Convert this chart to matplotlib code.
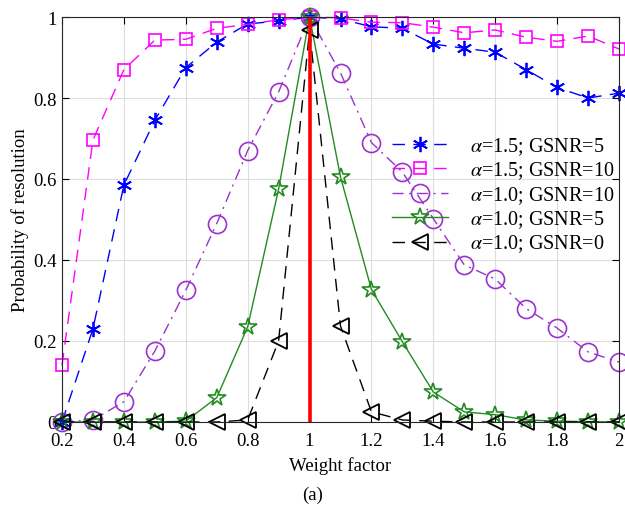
import numpy as np
import matplotlib
matplotlib.use("Agg")
import matplotlib.pyplot as plt

plt.rcParams['font.family'] = ['Liberation Serif', 'DejaVu Serif']
plt.rcParams['mathtext.fontset'] = 'stix'

# weight factor axis
w = [0.2, 0.3, 0.4, 0.5, 0.6, 0.7, 0.8, 0.9, 1.0, 1.1,
     1.2, 1.3, 1.4, 1.5, 1.6, 1.7, 1.8, 1.9, 2.0]

# probability of resolution for each setting
p_a15_g5 = [0.0, 0.23, 0.585, 0.745, 0.875, 0.938, 0.983, 0.99, 1.0, 0.995,
            0.976, 0.972, 0.933, 0.923, 0.913, 0.87, 0.826, 0.80, 0.812]
p_a15_g10 = [0.14, 0.696, 0.87, 0.943, 0.945, 0.972, 0.982, 0.993, 1.0, 0.998,
             0.987, 0.986, 0.975, 0.961, 0.968, 0.95, 0.94, 0.953, 0.921]
p_a10_g10 = [0.0, 0.005, 0.05, 0.175, 0.325, 0.49, 0.67, 0.815, 1.0, 0.862,
             0.69, 0.617, 0.502, 0.388, 0.353, 0.28, 0.232, 0.173, 0.148]
p_a10_g5 = [0.0, 0.0, 0.0, 0.0, 0.002, 0.06, 0.235, 0.575, 1.0, 0.605,
            0.327, 0.198, 0.074, 0.025, 0.018, 0.005, 0.002, 0.001, 0.0]
p_a10_g0 = [0.0, 0.0, 0.0, 0.0, 0.0, 0.0, 0.005, 0.2, 0.968, 0.237,
            0.025, 0.005, 0.002, 0.0, 0.0, 0.0, 0.0, 0.0, 0.0]

labels = [r'$\alpha$=1.5; GSNR=5', r'$\alpha$=1.5; GSNR=10',
          r'$\alpha$=1.0; GSNR=10', r'$\alpha$=1.0; GSNR=5',
          r'$\alpha$=1.0; GSNR=0']

fig = plt.figure(figsize=(6.25, 5.1), dpi=100)
ax = fig.add_axes([0.0992, 0.1706, 0.8912, 0.7941])

asterisk = (6, 2, 0)
ax.plot(w, p_a15_g5, color='#0000FF', lw=1.0, dashes=(9, 6), marker=asterisk,
        ms=11, mew=1.3, label=labels[0], clip_on=False)
ax.plot(w, p_a15_g10, color='#FF00FF', lw=1.0, dashes=(9, 6), marker='s',
        ms=9, mew=1.2, mfc='none', label=labels[1], clip_on=False)
ax.plot(w, p_a10_g10, color='#9933CC', lw=1.0, dashes=(8, 4, 1.5, 4), marker='o',
        ms=13, mew=1.2, mfc='none', label=labels[2], clip_on=False)
ax.plot(w, p_a10_g5, color='#228B22', lw=1.0, ls='-', marker='*',
        ms=13, mew=1.2, mfc='none', label=labels[3], clip_on=False)
ax.plot(w, p_a10_g0, color='black', lw=1.0, dashes=(9, 6), marker='<',
        ms=12, mew=1.3, mfc='none', label=labels[4], clip_on=False)

# optimal weight
ax.plot([1, 1], [0, 1], color='red', lw=2.6, solid_capstyle='butt')

ax.set_xlim(0.2, 2)
ax.set_ylim(0, 1)
ax.set_xticks(np.arange(0.2, 2.01, 0.2))
ax.set_xticklabels(['0.2', '0.4', '0.6', '0.8', '1', '1.2', '1.4', '1.6', '1.8', '2'])
ax.set_yticks(np.arange(0, 1.01, 0.2))
ax.set_yticklabels(['0', '0.2', '0.4', '0.6', '0.8', '1'])
ax.tick_params(direction='in', top=True, right=True, length=5, width=0.8,
               labelsize=13.5)
ax.tick_params(axis='x', pad=7)
ax.tick_params(axis='y', pad=4)
ax.grid(True, color='#dddddd', lw=0.8)
ax.set_axisbelow(True)
for s in ax.spines.values():
    s.set_linewidth(0.8)
    s.set_color('#262626')

ax.set_xlabel('Weight factor', fontsize=13.5, labelpad=5)
ax.set_ylabel('Probability of resolution', fontsize=13.5, labelpad=3)

ax.legend(loc='upper right', bbox_to_anchor=(1.0, 0.718), frameon=False,
          fontsize=14.5, numpoints=1, handlelength=2.8, handletextpad=1.1,
          labelspacing=0.14, borderaxespad=0.0, borderpad=0.2)

fig.text(0.5, 0.02, '(a)', ha='center', fontsize=13.5)

fig.savefig('out.png', dpi=100)
